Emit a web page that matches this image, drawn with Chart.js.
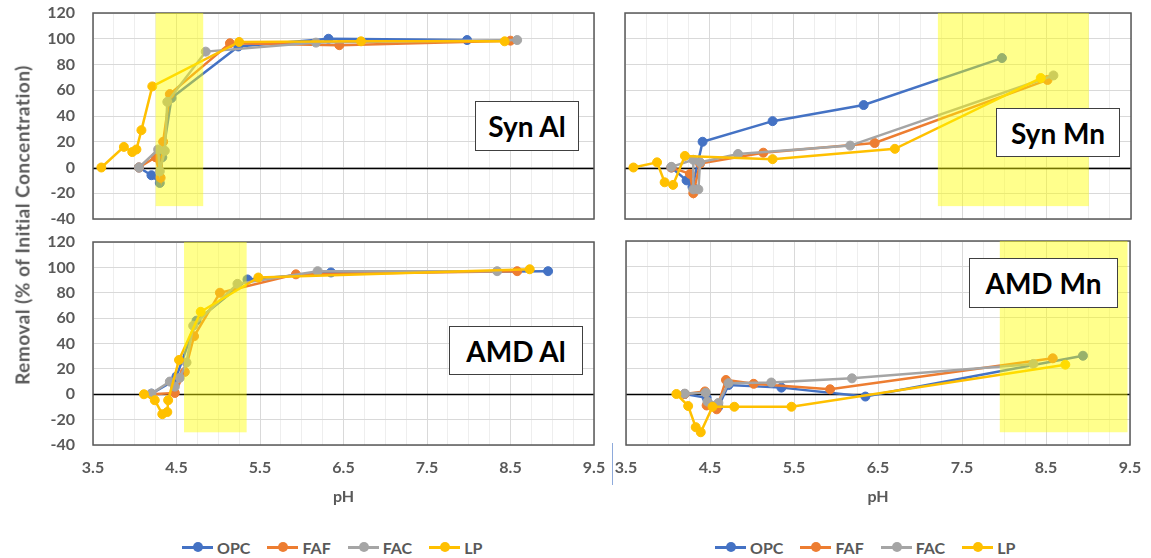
<!DOCTYPE html>
<html>
<head>
<meta charset="utf-8">
<script src="https://cdn.jsdelivr.net/npm/chart.js@4.4.1/dist/chart.umd.min.js"></script>
<style>
  body { margin: 0; background: #fff; width: 1151px; height: 558px; position: relative; overflow: hidden; font-family: Lato, "Open Sans", sans-serif; }
  canvas { position: absolute; }
  .tag { position: absolute; background: #fff; border: 1px solid #404040; box-sizing: border-box;
         font: bold 28px Lato, sans-serif; color: #000; display: flex; align-items: center; justify-content: center; }
  .ytitle { position: absolute; left: 22px; top: 225px; transform: translate(-50%, -50%) rotate(-90deg);
            white-space: nowrap; font: bold 19px Lato, sans-serif; letter-spacing: 0.5px; color: #595959; }
  .legend { position: absolute; top: 537px; height: 20px; display: flex; align-items: center;
            font: bold 16px Lato, sans-serif; color: #595959; }
  .legend .item { display: flex; align-items: center; margin-right: 17px; }
  .legend .mark { position: relative; width: 31px; height: 10px; margin-right: 4px; }
  .legend .mark i { position: absolute; left: 0; right: 0; top: 4px; height: 2.5px; }
  .legend .mark b { position: absolute; left: 11px; top: 0; width: 10px; height: 10px; border-radius: 50%; }
  .divider { position: absolute; left: 612px; top: 443px; width: 1px; height: 42px; background: #8eaadb; }
</style>
</head>
<body>
<canvas id="synAl" width="610" height="231" style="left:0;top:0"></canvas>
<canvas id="synMn" width="541" height="231" style="left:610px;top:0"></canvas>
<canvas id="amdAl" width="610" height="280" style="left:0;top:230px"></canvas>
<canvas id="amdMn" width="541" height="280" style="left:610px;top:230px"></canvas>

<div class="tag" style="left:475px;top:101px;width:104px;height:50px">Syn Al</div>
<div class="tag" style="left:996px;top:108px;width:124px;height:49px">Syn Mn</div>
<div class="tag" style="left:449px;top:326px;width:134px;height:49px">AMD Al</div>
<div class="tag" style="left:969px;top:258px;width:149px;height:50px">AMD Mn</div>
<div class="ytitle">Removal (% of Initial Concentration)</div>
<div class="divider"></div>
<div class="legend" id="legendLeft" style="left:182px"></div>
<div class="legend" id="legendRight" style="left:715px"></div>

<script>
const seriesNames = ['OPC', 'FAF', 'FAC', 'LP'];
const seriesColors = ['#4472C4', '#ED7D31', '#A5A5A5', '#FFC000'];
const xTicks = [3.5, 4.5, 5.5, 6.5, 7.5, 8.5, 9.5];
const yTicks = [-40, -20, 0, 20, 40, 60, 80, 100, 120];

// Syn Al
const synAlOpcPh  = [4.05, 4.20, 4.30, 4.33, 4.44, 5.24, 6.32, 7.98];
const synAlOpcVal = [0, -6, -12, 8, 54, 94, 100, 99];
const synAlFafPh  = [4.05, 4.25, 4.31, 4.34, 4.42, 5.14, 6.45, 8.50];
const synAlFafVal = [0, 8, -8, 20, 57, 96.5, 95, 98.5];
const synAlFacPh  = [4.05, 4.28, 4.30, 4.36, 4.39, 4.85, 6.17, 8.58];
const synAlFacVal = [0, 14, -3, 13, 51, 90, 97, 99];
const synAlLpPh   = [3.60, 3.87, 3.97, 4.02, 4.08, 4.21, 5.25, 6.71, 8.43];
const synAlLpVal  = [0, 16, 12, 14, 29, 63, 97.5, 98, 98];
const synAlBand   = [4.25, 4.82, -30, 120];

// Syn Mn
const synMnOpcPh  = [4.05, 4.23, 4.30, 4.42, 5.25, 6.33, 7.97];
const synMnOpcVal = [0, -10, -15, 20, 36, 48.5, 85];
const synMnFafPh  = [4.05, 4.27, 4.31, 4.39, 5.14, 6.46, 8.51];
const synMnFafVal = [0, -5, -20, 3, 11.5, 19, 68];
const synMnFacPh  = [4.05, 4.31, 4.31, 4.37, 4.39, 4.84, 6.17, 8.58];
const synMnFacVal = [0.5, 6, -17, -17, 4, 10.5, 17, 71.5];
const synMnLpPh   = [3.60, 3.88, 3.97, 4.07, 4.21, 5.25, 6.70, 8.43];
const synMnLpVal  = [0, 4, -11.5, -13.5, 9, 6.5, 14.5, 69.5];
const synMnBand   = [7.21, 9.0, -30, 120];

// AMD Al
const amdAlOpcPh  = [4.20, 4.45, 4.50, 4.74, 5.35, 6.35, 8.95];
const amdAlOpcVal = [0.5, 10, 14, 58, 90.5, 96, 97];
const amdAlFafPh  = [4.20, 4.48, 4.60, 4.71, 5.02, 5.93, 8.58];
const amdAlFafVal = [0, 1, 17.6, 45.7, 80, 94.5, 97];
const amdAlFacPh  = [4.20, 4.42, 4.48, 4.54, 4.62, 4.70, 5.23, 6.19, 8.34];
const amdAlFacVal = [0.5, 10, 6, 13, 25, 54, 87, 97, 97];
const amdAlLpPh   = [4.11, 4.24, 4.33, 4.39, 4.40, 4.53, 4.79, 5.48, 8.73];
const amdAlLpVal  = [0, -4.7, -15.7, -14, -4.7, 27, 65, 92, 98.5];
const amdAlBand   = [4.59, 5.34, -30, 120];

// AMD Mn
const amdMnOpcPh  = [4.20, 4.46, 4.60, 4.72, 5.35, 6.35, 8.94];
const amdMnOpcVal = [0, -3, -10, 7, 5, -2, 30];
const amdMnFafPh  = [4.20, 4.44, 4.46, 4.58, 4.69, 5.02, 5.93, 8.58];
const amdMnFafVal = [0, 2, -9, -12, 11, 8, 3.7, 28];
const amdMnFacPh  = [4.20, 4.45, 4.47, 4.60, 4.72, 5.23, 6.19, 8.35];
const amdMnFacVal = [0.3, 1, -6, -7, 8.5, 9, 12.3, 23.6];
const amdMnLpPh   = [4.10, 4.24, 4.33, 4.39, 4.53, 4.79, 5.47, 8.73];
const amdMnLpVal  = [0, -9.4, -26, -30, -10, -10, -10, 23];
const amdMnBand   = [7.95, 9.47, -30, 120];

function pts(ph, val) {
  return ph.map(function(p, i) { return {x: p, y: val[i]}; });
}

function makeSets(groups) {
  return groups.map(function(g, i) {
    return {
      label: seriesNames[i],
      data: pts(g[0], g[1]),
      showLine: true,
      borderColor: seriesColors[i],
      backgroundColor: seriesColors[i],
      pointBackgroundColor: seriesColors[i],
      pointBorderColor: seriesColors[i],
      borderWidth: 2.5,
      pointRadius: 4.5,
      pointBorderWidth: 1,
      order: 4 - i
    };
  });
}

// frame, zero line and the shaded pH band on top of the lines
const framePlugin = {
  id: 'frame',
  beforeDatasetsDraw(chart) {
    const ctx = chart.ctx, a = chart.chartArea, y = chart.scales.y;
    const y0 = Math.round(y.getPixelForValue(0)) + 0.5;
    ctx.save();
    ctx.strokeStyle = '#000';
    ctx.lineWidth = 1.3;
    ctx.beginPath(); ctx.moveTo(a.left, y0); ctx.lineTo(a.right, y0); ctx.stroke();
    ctx.strokeStyle = '#595959';
    ctx.lineWidth = 1.5;
    ctx.strokeRect(a.left, a.top, a.right - a.left, a.bottom - a.top);
    ctx.restore();
  },
  afterDatasetsDraw(chart, args, opts) {
    const b = opts.band;
    if (!b) return;
    const ctx = chart.ctx, x = chart.scales.x, y = chart.scales.y;
    const x1 = x.getPixelForValue(b[0]), x2 = x.getPixelForValue(b[1]);
    const yt = y.getPixelForValue(b[3]), yb = y.getPixelForValue(b[2]);
    ctx.save();
    ctx.fillStyle = 'rgba(255,255,0,0.45)';
    ctx.fillRect(x1, yt, x2 - x1, yb - yt);
    ctx.restore();
  }
};

const tickFont = {family: 'Lato', weight: 'bold', size: 16};

function isMajor(v) {
  return xTicks.some(function(t) { return Math.abs(t - v) < 1e-6; });
}

function buildChart(id, groups, band, opt) {
  new Chart(document.getElementById(id), {
    type: 'scatter',
    data: { datasets: makeSets(groups) },
    plugins: [framePlugin],
    options: {
      responsive: false,
      animation: false,
      layout: { padding: opt.padding },
      plugins: { legend: { display: false }, tooltip: { enabled: false }, frame: { band: band } },
      scales: {
        x: {
          type: 'linear', min: 3.5, max: 9.5,
          afterFit: function(s) {
            s.height = opt.xHeight;
            s.paddingLeft = 0; s.paddingRight = 0; s.paddingTop = 0; s.paddingBottom = 0;
          },
          border: { display: false },
          grid: { drawTicks: false, color: function(c) { return c.tick && isMajor(c.tick.value) ? '#d9d9d9' : '#eeeeee'; } },
          ticks: {
            display: opt.xLabels, stepSize: 0.25, autoSkip: false, maxRotation: 0, padding: 13,
            font: tickFont, color: '#595959',
            callback: function(v) { return isMajor(v) ? v.toFixed(1) : ''; }
          },
          title: { display: opt.xLabels, text: 'pH', font: tickFont, color: '#595959', padding: {top: 0, bottom: 4} }
        },
        y: {
          min: -40, max: 120,
          afterFit: function(s) {
            s.width = opt.yWidth;
            s.paddingTop = 10; s.paddingBottom = 10; s.paddingLeft = 0; s.paddingRight = 0;
          },
          afterBuildTicks: function(s) { s.ticks = yTicks.map(function(v) { return {value: v}; }); },
          border: { display: false },
          grid: { drawTicks: false, color: '#d9d9d9' },
          ticks: { display: opt.yLabels, padding: 18, font: tickFont, color: '#595959' }
        }
      }
    }
  });
}

buildChart('synAl',
  [[synAlOpcPh, synAlOpcVal], [synAlFafPh, synAlFafVal], [synAlFacPh, synAlFacVal], [synAlLpPh, synAlLpVal]],
  synAlBand, {padding: {top: 13, right: 16, bottom: 12, left: 0}, yWidth: 93, xHeight: 0, xLabels: false, yLabels: true});
buildChart('synMn',
  [[synMnOpcPh, synMnOpcVal], [synMnFafPh, synMnFafVal], [synMnFacPh, synMnFacVal], [synMnLpPh, synMnLpVal]],
  synMnBand, {padding: {top: 13, right: 20, bottom: 12, left: 0}, yWidth: 15, xHeight: 0, xLabels: false, yLabels: false});
buildChart('amdAl',
  [[amdAlOpcPh, amdAlOpcVal], [amdAlFafPh, amdAlFafVal], [amdAlFacPh, amdAlFacVal], [amdAlLpPh, amdAlLpVal]],
  amdAlBand, {padding: {top: 12, right: 16, bottom: 0, left: 0}, yWidth: 93, xHeight: 65, xLabels: true, yLabels: true});
buildChart('amdMn',
  [[amdMnOpcPh, amdMnOpcVal], [amdMnFafPh, amdMnFafVal], [amdMnFacPh, amdMnFacVal], [amdMnLpPh, amdMnLpVal]],
  amdMnBand, {padding: {top: 11, right: 21, bottom: 0, left: 0}, yWidth: 16, xHeight: 65, xLabels: true, yLabels: false});

// legends under each column
['legendLeft', 'legendRight'].forEach(function(id) {
  const box = document.getElementById(id);
  seriesNames.forEach(function(name, i) {
    const item = document.createElement('div');
    item.className = 'item';
    item.innerHTML = '<span class="mark"><i style="background:' + seriesColors[i] + '"></i><b style="background:' +
      seriesColors[i] + '"></b></span><span>' + name + '</span>';
    box.appendChild(item);
  });
});
</script>
</body>
</html>
